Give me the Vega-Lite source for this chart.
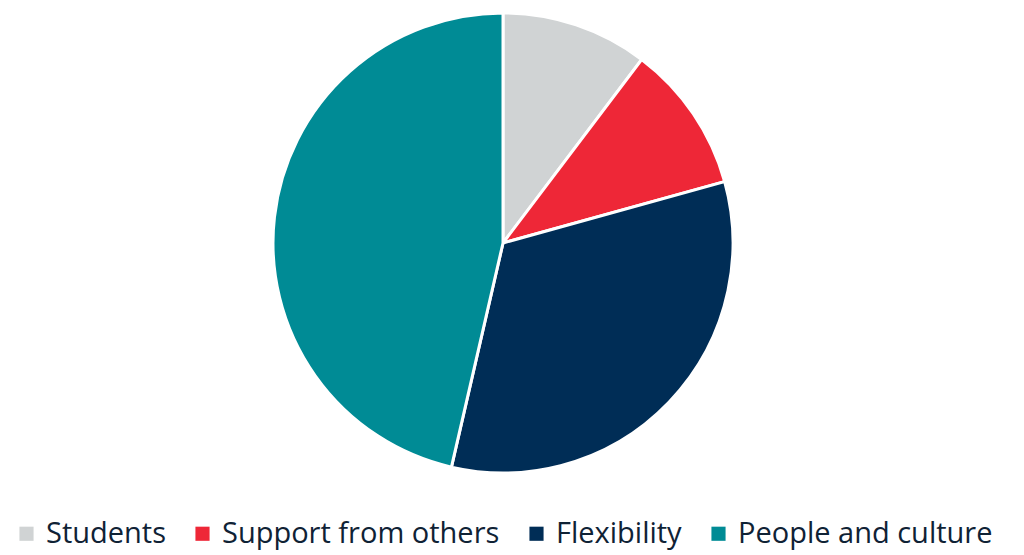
{
  "$schema": "https://vega.github.io/schema/vega-lite/v6.json",
  "width": 1006,
  "height": 486,
  "padding": {"left": 0, "top": 0, "right": 18, "bottom": 69},
  "autosize": {"type": "none"},
  "background": "white",
  "data": {
    "values": [
      {"category": "Students", "value": 10.3, "order": 1},
      {"category": "Support from others", "value": 10.4, "order": 2},
      {"category": "Flexibility", "value": 32.9, "order": 3},
      {"category": "People and culture", "value": 46.4, "order": 4}
    ]
  },
  "mark": {"type": "arc", "outerRadius": 230, "stroke": "white", "strokeWidth": 3},
  "encoding": {
    "theta": {"field": "value", "type": "quantitative", "stack": true},
    "order": {"field": "order", "type": "quantitative"},
    "color": {
      "field": "category",
      "type": "nominal",
      "sort": ["Students", "Support from others", "Flexibility", "People and culture"],
      "scale": {
        "domain": ["Students", "Support from others", "Flexibility", "People and culture"],
        "range": ["#d0d3d4", "#ee2737", "#002d56", "#008b95"]
      },
      "legend": {
        "title": null,
        "orient": "none",
        "direction": "horizontal",
        "columns": 4,
        "legendX": 12,
        "legendY": 519,
        "padding": 0,
        "symbolType": "square",
        "symbolSize": 200,
        "symbolStrokeWidth": 0,
        "labelFont": "Open Sans",
        "labelFontSize": 29,
        "labelColor": "#0f2235",
        "labelOffset": 5,
        "columnPadding": 22,
        "labelLimit": 400
      }
    }
  },
  "config": {"view": {"stroke": null}}
}
